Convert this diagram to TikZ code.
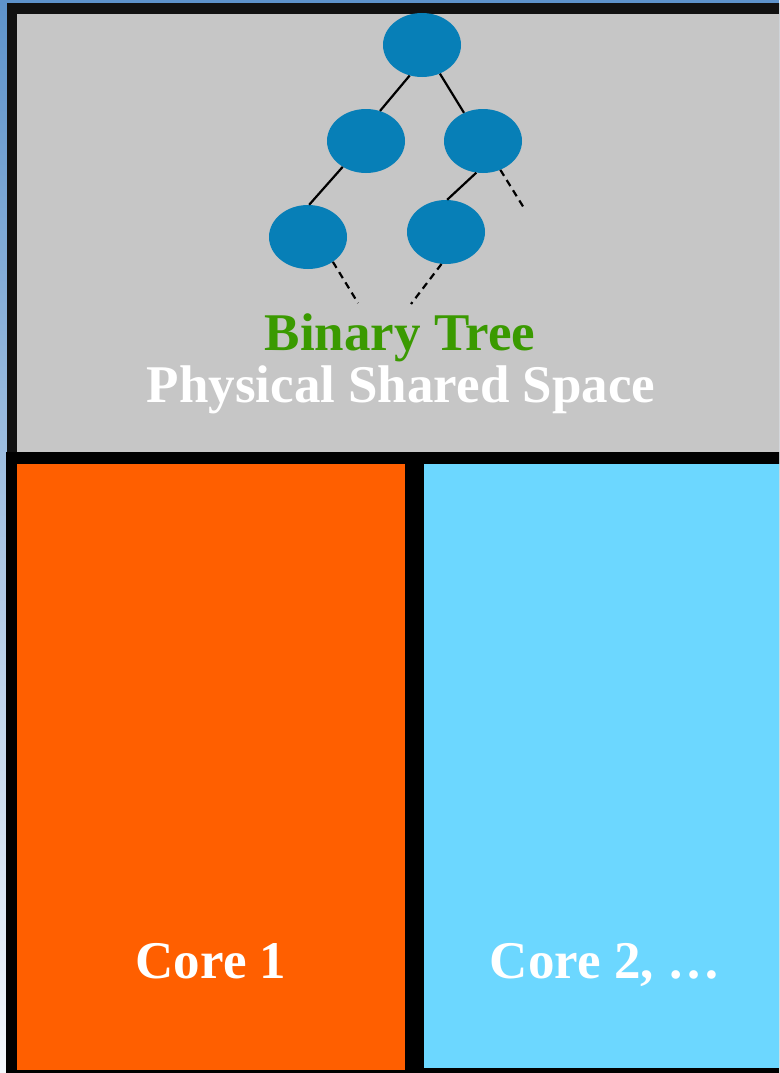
\documentclass[tikz,border=0pt]{standalone}
\usepackage{fontspec}
\setmainfont{Liberation Serif}
\usepackage{xcolor}
\usetikzlibrary{shapes.geometric}
\definecolor{bgtop}{HTML}{5E93CB}
\definecolor{bgbot}{HTML}{F5F8FC}
\definecolor{framedark}{HTML}{111111}
\definecolor{sharedgray}{HTML}{C6C6C6}
\definecolor{treeblue}{HTML}{077FB7}
\definecolor{treegreen}{HTML}{3A9A00}
\definecolor{coreorange}{HTML}{FF5F00}
\definecolor{corecyan}{HTML}{6CD7FF}
\tikzset{
  tnode/.style={ellipse, fill=treeblue, minimum width=78pt, minimum height=64pt, inner sep=0pt},
  br/.style={line width=2.2pt, black},
  brdash/.style={br, dash pattern=on 7pt off 5pt},
  big/.style={font=\fontsize{53}{60}\selectfont\bfseries, inner sep=0pt, anchor=base}
}

\begin{document}
\begin{tikzpicture}[x=1pt, y=-1pt]
  \useasboundingbox (0,0) rectangle (779,1073);
  \clip (0,0) rectangle (779,1073);
  % backdrop and boxes
  \shade[top color=bgtop, bottom color=bgbot] (0,0) rectangle (779,1073);
  \fill[framedark] (7,3) rectangle (800,464);
  \fill[black] (6,452) rectangle (800,1080);
  \fill[sharedgray] (17,14) rectangle (800,452);
  \fill[coreorange] (17,464) rectangle (405,1070);
  \fill[corecyan] (424,464) rectangle (800,1068);
  % tree
  \node[tnode] (root) at (422,45) {};
  \node[tnode] (lmid) at (366,141) {};
  \node[tnode] (rmid) at (483,141) {};
  \node[tnode] (lleaf) at (308,237) {};
  \node[tnode] (rleaf) at (446,232) {};
  \coordinate (rmidend) at (524,208);
  \coordinate (lleafend) at (358,303);
  \coordinate (rleafend) at (411,304);
  \draw[br] (root.248) -- (lmid.65);
  \draw[br] (root.302) -- (rmid.124);
  \draw[br] (lmid.228) -- (lleaf.88);
  \draw[br] (rmid.258) -- (rleaf.88);
  \draw[brdash] (rmid.301) -- (rmidend);
  \draw[brdash] (lleaf.315) -- (lleafend);
  \draw[brdash] (rleaf.262) -- (rleafend);
  % labels
  \node[big, text=treegreen] (treelbl) at (400,350) {Binary Tree};
  \node[big, text=white] (sharedlbl) at (401,402) {Physical Shared Space};
  \node[big, text=white] (core1) at (211,978) {Core 1};
  \node[big, text=white] (core2) at (605,978) {Core 2, …};
\end{tikzpicture}
\end{document}
